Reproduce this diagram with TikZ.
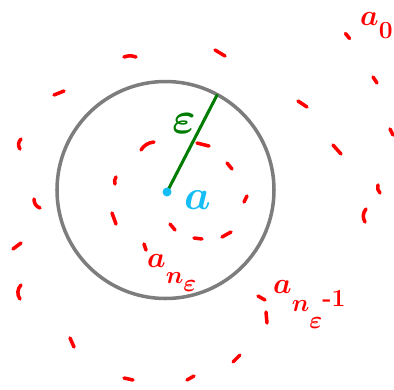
\documentclass[tikz,border=0pt]{standalone}
\usepackage{fix-cm}
\usepackage{tikz}

\definecolor{penred}{RGB}{255,0,0}
\definecolor{ballgray}{RGB}{125,125,125}
\definecolor{epsgreen}{RGB}{0,125,0}
\definecolor{limcyan}{RGB}{20,190,245}

% hand-drawn style index: lowered and a bit smaller
\newcommand{\sunk}[2]{\raisebox{-#1em}{\fontsize{21}{23}\selectfont$#2$}}

\begin{document}
\begin{tikzpicture}[
    x=0.03cm, y=-0.03cm,
    seqdash/.style={draw=penred, line width=3pt, line cap=round},
    ball/.style={draw=ballgray, line width=3pt},
    epsline/.style={draw=epsgreen, line width=2.6pt, line cap=round},
    seqlabel/.style={text=penred, inner sep=0pt, anchor=base west, font=\fontsize{25}{27}\selectfont\bfseries\boldmath}
  ]
    \useasboundingbox (0,0) rectangle (394,389);

    % ball of radius epsilon round the limit
    \coordinate (a) at (167,192);
    \draw[ball] (165.5,190) circle[radius=108.5];
    \draw[epsline] (a) -- ++(-62.7:109) coordinate (rim);
    \fill[limcyan] (a) circle[radius=4.5];

    % terms of the sequence, spiralling in
    \foreach \xa/\ya/\xb/\yb/\bd in {
        345.5/33.5/349.5/38.5/0, 215/50/225/56/0, 124/57/136/57/20,
        54/95/64/91/0, 373/77/377/83/0, 298/101/307/107/0,
        390/129/393/135/0, 21/139/20/149/-40, 141/150/154/142/25,
        197/143/209/146/0, 333/145/341/154/0, 227/163/232/169/0,
        116/177/115/184/-25, 378/185/380/193/-30, 247/196/244/202/0,
        34/199/40/208/-35, 366/209/365/222/-35, 112/213/116/224/0,
        170/224/175/230/0, 194/238/202/239/0, 222/237/231/232/0,
        13/249/21/243/0, 144/244/146/250/0, 21/285/20/299/-40,
        258/296/265/300/0, 266/312/267/323/0, 70/338/74/347/0,
        233/362/240/355/0, 124/378/133/380/0, 187/380/194/376/0}
      \draw[seqdash] (\xa,\ya) to[bend left=\bd] (\xb,\yb);

    \node[text=epsgreen, inner sep=0pt, anchor=base west,
      font=\fontsize{38}{40}\selectfont\boldmath] (eps) at (172,133) {$\varepsilon$};
    \node[text=limcyan, inner sep=0pt, anchor=base west,
      font=\fontsize{36}{38}\selectfont\boldmath] (lim) at (184,209) {$a$};
    \node[seqlabel] (aneps) at (147,267) {$a\sunk{0.57}{n}\sunk{0.84}{\varepsilon}$};
    \node[seqlabel] (anepsm) at (273,293)
      {$a\sunk{0.62}{n}\sunk{1.2}{\varepsilon}\raisebox{-0.45em}{\fontsize{21}{23}\selectfont-1}$};
    \node[seqlabel] (azero) at (360,25) {$a\sunk{0.45}{0}$};
  \end{tikzpicture}
\end{document}
